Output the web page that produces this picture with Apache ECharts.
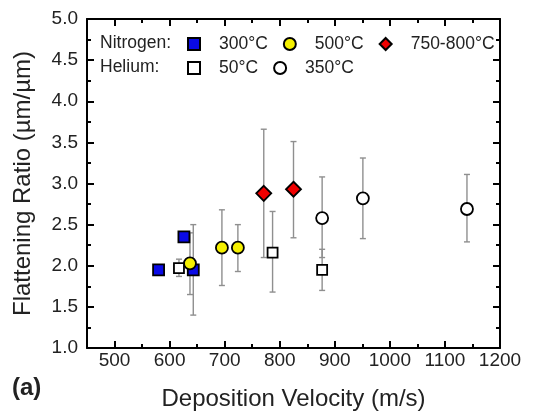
<!DOCTYPE html>
<html>
<head>
<meta charset="utf-8">
<script src="https://cdn.jsdelivr.net/npm/echarts@6/dist/echarts.min.js"></script>
<style>
    html, body { margin: 0; padding: 0; background: #fff; }
    #chart { width: 547px; height: 412px; }
</style>
</head>
<body>
<div id="chart"></div>
<script type="text/javascript">
    var n300X = [580, 626, 643];
    var n300Y = [1.95, 2.35, 1.95];
    var n500X = [637, 695, 724];
    var n500Y = [2.03, 2.22, 2.22];
    var n750X = [771, 825];
    var n750Y = [2.88, 2.93];
    var he50X = [617, 787, 877];
    var he50Y = [1.97, 2.16, 1.95];
    var he350X = [877, 951, 1140];
    var he350Y = [2.58, 2.82, 2.69];

    var errX    = [643, 637, 695, 724, 771, 825, 617, 787, 877, 877, 951, 1140];
    var errLow  = [1.40, 1.65, 1.76, 1.93, 2.10, 2.34, 1.87, 1.68, 1.70, 2.10, 2.33, 2.29];
    var errHigh = [2.50, 2.40, 2.68, 2.50, 3.66, 3.51, 2.08, 2.66, 2.20, 3.08, 3.31, 3.11];

    var font = 'Liberation Sans, Arial, sans-serif';

    // 主网格 x: 450-1200, 辅助网格 x: 500-1200 (用于主刻度和标签)
    var gLeft = 87, gTop = 19, gW = 413, gH = 329;
    var pxPerUnit = gW / 750;

    function pairs(xs, ys) {
        var out = [];
        for (var i = 0; i < xs.length; i++) out.push([xs[i], ys[i]]);
        return out;
    }
    var errData = [];
    for (var i = 0; i < errX.length; i++) errData.push([errX[i], errLow[i], errHigh[i]]);

    var lineSt = {color: '#000', width: 2};

    // 小刻度 (每 50)
    function xMinorAx(pos) {
        return {
            type: 'value', gridIndex: 0, position: pos, min: 450, max: 1200, interval: 50,
            axisLine: {show: true, onZero: false, lineStyle: lineSt},
            axisTick: {show: true, inside: true, length: 4, lineStyle: lineSt},
            axisLabel: {show: false},
            splitLine: {show: false}
        };
    }
    // 大刻度 (每 100)
    function xMajorAx(pos, labels) {
        return {
            type: 'value', gridIndex: 1, position: pos, min: 500, max: 1200, interval: 100,
            axisLine: {show: false, onZero: false},
            axisTick: {show: true, inside: true, length: 7, lineStyle: lineSt},
            axisLabel: {show: labels, margin: 3, color: '#222', fontSize: 19, fontFamily: font,
                formatter: function (v) { return String(v); }},
            splitLine: {show: false}
        };
    }

    function yAx(grid, pos, labels) {
        return {
            type: 'value', gridIndex: grid, position: pos, min: 1, max: 5, interval: 0.5,
            axisLine: {show: grid === 0, onZero: false, lineStyle: lineSt},
            axisTick: {show: grid === 0, inside: true, length: 7, lineStyle: lineSt},
            minorTick: {show: grid === 0, splitNumber: 2, length: 4, lineStyle: lineSt},
            axisLabel: {show: labels, margin: 9, color: '#222', fontSize: 19, fontFamily: font,
                formatter: function (v) { return v.toFixed(1); }},
            splitLine: {show: false}
        };
    }

    var xBottom = xMinorAx('bottom');
    xBottom.name = 'Deposition Velocity (m/s)';
    xBottom.nameLocation = 'middle';
    xBottom.nameGap = 39;
    xBottom.nameTextStyle = {color: '#222', fontSize: 24, fontFamily: font};

    var yLeft = yAx(0, 'left', true);
    yLeft.name = 'Flattening Ratio (\u00b5m/\u00b5m)';
    yLeft.nameLocation = 'middle';
    yLeft.nameGap = 52;
    yLeft.nameTextStyle = {color: '#222', fontSize: 24, fontFamily: font};

    var legendText = {fontSize: 17.5, fontFamily: font, color: '#222', padding: [0, 0, 0, 14]};

    var myChart = echarts.init(document.getElementById('chart'));
    var option = {
        animation: false,
        grid: [
            {left: gLeft, top: gTop, width: gW, height: gH, outerBoundsMode: 'none'},
            {left: gLeft + 50 * pxPerUnit, top: gTop, width: 700 * pxPerUnit, height: gH, outerBoundsMode: 'none'}
        ],
        xAxis: [
            xBottom,
            xMinorAx('top'),
            xMajorAx('bottom', true),
            xMajorAx('top', false)
        ],
        yAxis: [
            yLeft,
            yAx(0, 'right', false),
            yAx(1, 'left', false)
        ],
        legend: [
            {
                data: ['300\u00b0C', '500\u00b0C', '750-800\u00b0C'],
                left: 187, top: 35, padding: 0, itemWidth: 12, itemHeight: 12, itemGap: 15,
                textStyle: legendText
            },
            {
                data: ['50\u00b0C', '350\u00b0C'],
                left: 187, top: 59, padding: 0, itemWidth: 12, itemHeight: 12, itemGap: 15,
                textStyle: legendText
            }
        ],
        graphic: [
            {type: 'text', left: 100, top: 34, style: {text: 'Nitrogen:', fontSize: 17.5, fontFamily: font, fill: '#222'}},
            {type: 'text', left: 100, top: 58, style: {text: 'Helium:', fontSize: 17.5, fontFamily: font, fill: '#222'}},
            {type: 'text', left: 12, top: 376, style: {text: '(a)', fontSize: 24, fontWeight: 'bold', fontFamily: font, fill: '#222'}}
        ],
        series: [
            {
                name: 'err', type: 'custom', data: errData, z: 1, xAxisIndex: 0, yAxisIndex: 0,
                renderItem: function (params, api) {
                    var x = api.value(0);
                    var bot = api.coord([x, api.value(1)]);
                    var top = api.coord([x, api.value(2)]);
                    var st = {stroke: '#8f8f8f', lineWidth: 1.4};
                    return {
                        type: 'group',
                        children: [
                            {type: 'line', shape: {x1: top[0], y1: top[1], x2: bot[0], y2: bot[1]}, style: st},
                            {type: 'line', shape: {x1: top[0] - 3, y1: top[1], x2: top[0] + 3, y2: top[1]}, style: st},
                            {type: 'line', shape: {x1: bot[0] - 3, y1: bot[1], x2: bot[0] + 3, y2: bot[1]}, style: st}
                        ]
                    };
                }
            },
            {
                name: '300\u00b0C', type: 'scatter', data: pairs(n300X, n300Y), symbol: 'rect', symbolSize: 11, z: 3,
                itemStyle: {color: '#0a0ae6', borderColor: '#000', borderWidth: 1.8, opacity: 1}
            },
            {
                name: '500\u00b0C', type: 'scatter', data: pairs(n500X, n500Y), symbol: 'circle', symbolSize: 12, z: 3,
                itemStyle: {color: '#f5f000', borderColor: '#000', borderWidth: 1.8, opacity: 1}
            },
            {
                name: '750-800\u00b0C', type: 'scatter', data: pairs(n750X, n750Y), symbol: 'diamond', symbolSize: 15, z: 3,
                itemStyle: {color: '#f00000', borderColor: '#000', borderWidth: 1.8, opacity: 1}
            },
            {
                name: '50\u00b0C', type: 'scatter', data: pairs(he50X, he50Y), symbol: 'rect', symbolSize: 10, z: 3,
                itemStyle: {color: '#fff', borderColor: '#000', borderWidth: 1.8, opacity: 1}
            },
            {
                name: '350\u00b0C', type: 'scatter', data: pairs(he350X, he350Y), symbol: 'circle', symbolSize: 12, z: 3,
                itemStyle: {color: '#fff', borderColor: '#000', borderWidth: 1.8, opacity: 1}
            }
        ]
    };
    myChart.setOption(option);
</script>
</body>
</html>
